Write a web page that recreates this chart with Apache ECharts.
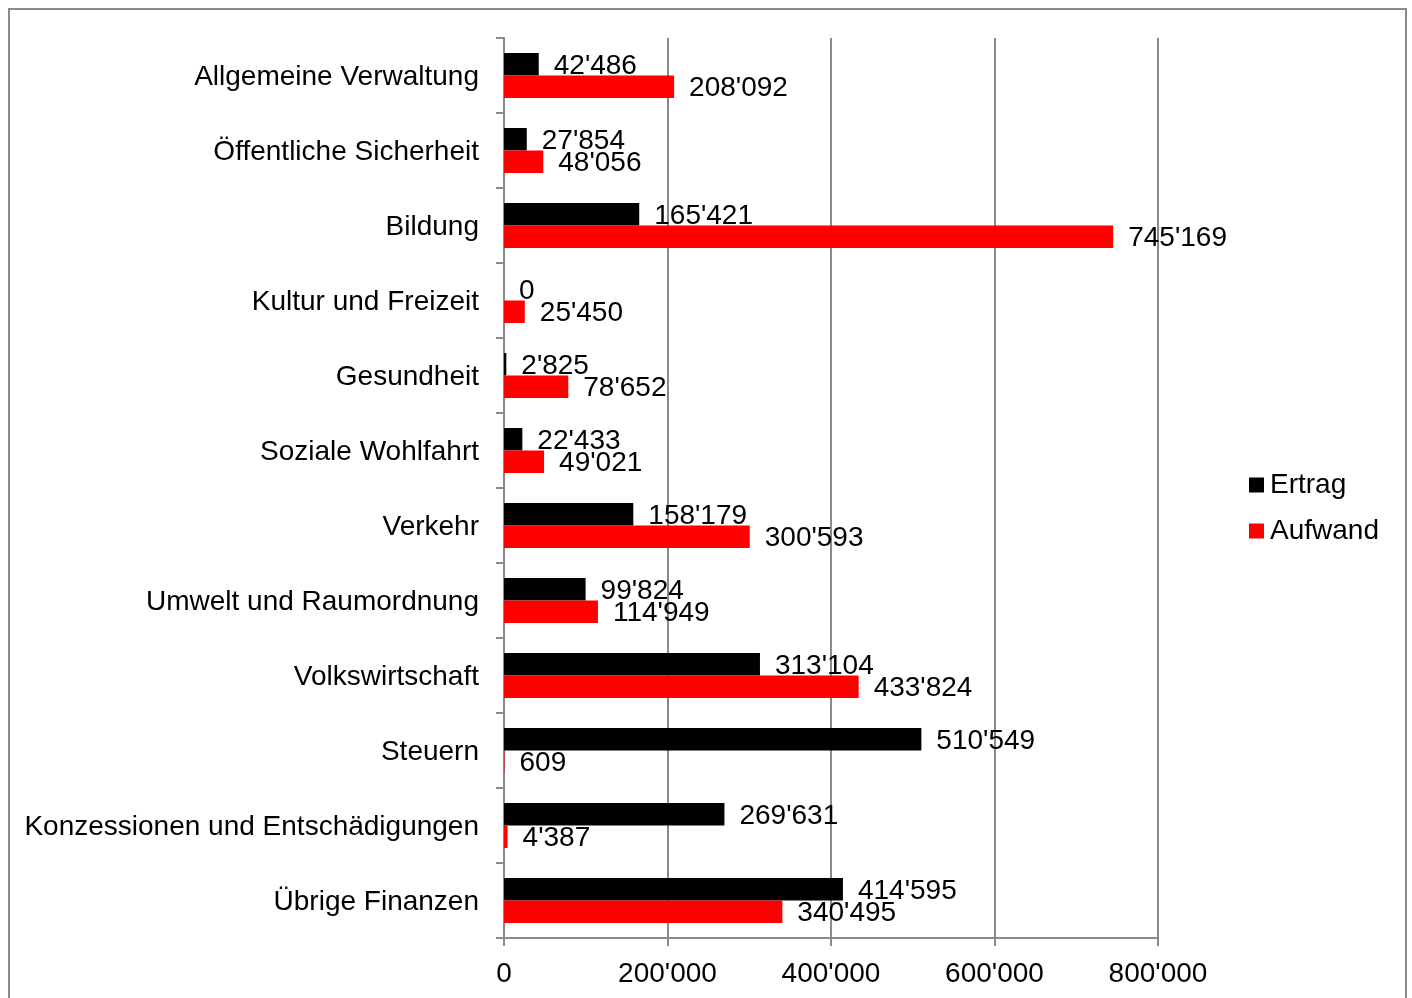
<!DOCTYPE html>
<html>
<head>
<meta charset="utf-8">
<script src="https://cdn.jsdelivr.net/npm/echarts@6/dist/echarts.min.js"></script>
<style>
html,body{margin:0;padding:0;background:#fff;}
#chart{width:1412px;height:998px;}
</style>
</head>
<body>
<div id="chart"></div>
<script>
const categories = [
  "Allgemeine Verwaltung",
  "Öffentliche Sicherheit",
  "Bildung",
  "Kultur und Freizeit",
  "Gesundheit",
  "Soziale Wohlfahrt",
  "Verkehr",
  "Umwelt und Raumordnung",
  "Volkswirtschaft",
  "Steuern",
  "Konzessionen und Entschädigungen",
  "Übrige Finanzen"
];
const ertrag = [42486, 27854, 165421, 0, 2825, 22433, 158179, 99824, 313104, 510549, 269631, 414595];
const aufwand = [208092, 48056, 745169, 25450, 78652, 49021, 300593, 114949, 433824, 609, 4387, 340495];
const seriesNames = ["Ertrag", "Aufwand"];
const xTicks = { min: 0, max: 800000, interval: 200000 };

const FONT = '"Liberation Sans", Arial, Helvetica, sans-serif';
const GRAY = '#8a8a8a';
function fmt(v) {
  return String(v).replace(/\B(?=(\d{3})+(?!\d))/g, "'");
}

const chart = echarts.init(document.getElementById('chart'), null, { renderer: 'canvas' });
const labelCfg = {
  show: true,
  position: 'right',
  distance: 15,
  offset: [0, 2],
  color: '#000',
  fontFamily: FONT,
  fontSize: 28,
  formatter: p => fmt(p.value)
};
chart.setOption({
  animation: false,
  backgroundColor: '#fff',
  textStyle: { fontFamily: FONT },
  graphic: [{
    type: 'rect',
    shape: { x: 9, y: 9, width: 1397, height: 1010 },
    style: { fill: 'none', stroke: GRAY, lineWidth: 2 },
    silent: true
  }],
  grid: { left: 504, top: 38, width: 654, height: 900, containLabel: false },
  legend: {
    orient: 'vertical',
    left: 1249,
    top: 471,
    padding: 0,
    itemGap: 18,
    itemWidth: 15,
    itemHeight: 15,
    icon: 'rect',
    textStyle: { fontFamily: FONT, fontSize: 28, color: '#000', padding: [0, 0, 0, 1] },
    data: seriesNames
  },
  xAxis: {
    type: 'value',
    min: xTicks.min,
    max: xTicks.max,
    interval: xTicks.interval,
    axisLine: { show: true, lineStyle: { color: GRAY, width: 2 } },
    axisTick: { show: true, length: 8, lineStyle: { color: GRAY, width: 2 } },
    splitLine: { show: true, lineStyle: { color: GRAY, width: 2 } },
    axisLabel: { color: '#000', fontFamily: FONT, fontSize: 28, margin: 22, formatter: v => fmt(v) }
  },
  yAxis: {
    type: 'category',
    inverse: true,
    data: categories,
    axisLine: { show: true, lineStyle: { color: GRAY, width: 2 } },
    axisTick: { show: true, length: 8, lineStyle: { color: GRAY, width: 2 } },
    axisLabel: {
      color: '#000', fontFamily: FONT, fontSize: 28, margin: 25,
      formatter: v => '{c|' + v + '}',
      rich: { c: { fontFamily: FONT, fontSize: 28, color: '#000', padding: [3, 0, 0, 0] } }
    }
  },
  series: [
    {
      name: seriesNames[0],
      type: 'bar',
      data: ertrag,
      itemStyle: { color: '#000000' },
      barGap: '0%',
      barCategoryGap: '40%',
      label: labelCfg
    },
    {
      name: seriesNames[1],
      type: 'bar',
      data: aufwand,
      itemStyle: { color: '#ff0000' },
      barGap: '0%',
      barCategoryGap: '40%',
      label: labelCfg
    }
  ]
});
</script>
</body>
</html>
